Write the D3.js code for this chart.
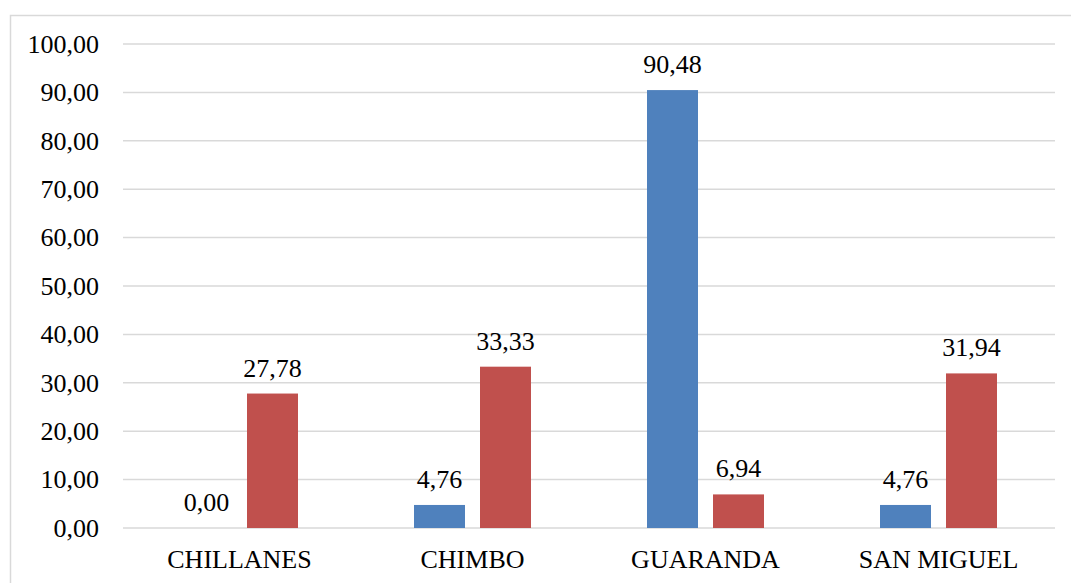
<!DOCTYPE html>
<html>
<head>
<meta charset="utf-8">
<script src="https://cdn.jsdelivr.net/npm/d3@7"></script>
<style>
  html, body { margin: 0; padding: 0; background: #fff; }
  svg { display: block; font-family: "Liberation Serif", "Times New Roman", serif; }
</style>
</head>
<body>
<div id="chart"></div>
<script>
// categories and series
const categories = ["CHILLANES", "CHIMBO", "GUARANDA", "SAN MIGUEL"];
const seriesBlue = [0.00, 4.76, 90.48, 4.76];
const seriesRed = [27.78, 33.33, 6.94, 31.94];
const yTicks = [0, 10, 20, 30, 40, 50, 60, 70, 80, 90, 100];

{
    const width = 1071, height = 583;
    const margin = { top: 44, right: 16, bottom: 55, left: 123 };
    const innerWidth = width - margin.left - margin.right;
    const innerHeight = height - margin.top - margin.bottom;
    const fontSize = "26px";
    const fmt = v => v.toFixed(2).replace(".", ",");

    const root = d3.select("#chart").append("svg")
        .attr("width", width)
        .attr("height", height);

    // outer chart border
    root.append("rect")
        .attr("x", 10.5).attr("y", 15.5)
        .attr("width", 1100).attr("height", 600)
        .attr("fill", "none")
        .attr("stroke", "#d9d9d9")
        .attr("stroke-width", 1.5);

    const svg = root.append("g")
        .attr("transform", `translate(${margin.left}, ${margin.top})`);

    const y = d3.scaleLinear().domain([0, 100]).range([innerHeight, 0]);
    const x0 = d3.scaleBand().domain(categories).range([0, innerWidth]);
    const series = [
        { key: "a", values: seriesBlue, color: "#4f81bd" },
        { key: "b", values: seriesRed, color: "#c0504d" }
    ];
    const barW = 51, gap = 15;
    const x1 = d3.scaleOrdinal()
        .domain(["a", "b"])
        .range([-(barW + gap / 2), gap / 2]);

    // gridlines
    svg.append("g")
        .selectAll("line")
        .data(yTicks)
        .join("line")
        .attr("x1", 0).attr("x2", innerWidth)
        .attr("y1", d => y(d)).attr("y2", d => y(d))
        .attr("stroke", "#d9d9d9")
        .attr("stroke-width", 1.5);

    // y axis labels
    const yAxis = svg.append("g")
        .call(d3.axisLeft(y).tickValues(yTicks).tickSize(0).tickPadding(24).tickFormat(fmt));
    yAxis.select(".domain").remove();
    yAxis.attr("font-family", null);
    yAxis.selectAll("text")
        .attr("font-size", fontSize)
        .attr("fill", "#000");

    // x axis labels
    const xAxis = svg.append("g")
        .attr("transform", `translate(0, ${innerHeight})`)
        .call(d3.axisBottom(x0).tickSize(0).tickPadding(22));
    xAxis.select(".domain").remove();
    xAxis.attr("font-family", null);
    xAxis.selectAll("text")
        .attr("font-size", fontSize)
        .attr("fill", "#000");

    // bars + labels
    series.forEach(s => {
        const data = categories.map((c, i) => ({ cat: c, value: s.values[i] }));
        const cx = d => x0(d.cat) + x0.bandwidth() / 2 + x1(s.key);

        svg.append("g")
            .selectAll("rect")
            .data(data)
            .join("rect")
            .attr("x", cx)
            .attr("y", d => y(d.value))
            .attr("width", barW)
            .attr("height", d => innerHeight - y(d.value))
            .attr("fill", s.color);

        svg.append("g")
            .selectAll("text")
            .data(data)
            .join("text")
            .attr("x", d => cx(d) + barW / 2)
            .attr("y", d => y(d.value) - 17)
            .attr("text-anchor", "middle")
            .attr("font-size", fontSize)
            .attr("fill", "#000")
            .text(d => fmt(d.value));
    });
}
</script>
</body>
</html>
